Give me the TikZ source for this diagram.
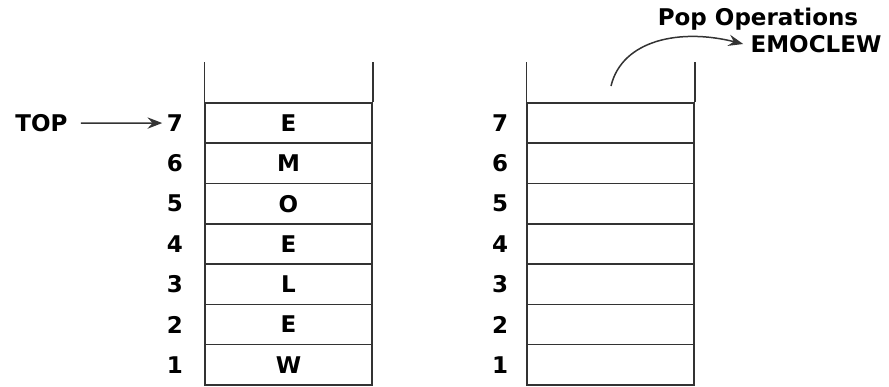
\documentclass[tikz,border=0pt]{standalone}
\usepackage{fontspec}
\setmainfont{DejaVu Sans}
\usepackage{tikz}
\usetikzlibrary{arrows.meta,positioning}

\begin{document}
\begin{tikzpicture}[
    x=0.5pt, y=-0.5pt,
    font=\fontsize{11.5}{13}\selectfont\bfseries,
    line width=0.75pt,
    cell/.style={
        draw=black!80,
        minimum width=83.5pt,
        minimum height=20.15pt,
        inner sep=0pt
    },
    num/.style={inner sep=2pt},
    wall/.style={draw=black!80},
    arrow/.style={-{Stealth[length=2.6mm,width=2mm,inset=0.9mm]}, black!80}
]
\useasboundingbox (0,0) rectangle (889,386);

% left stack, filled
\foreach \i/\ch in {1/W,2/E,3/L,4/E,5/O,6/M,7/E} {
    \node[cell] (l\i) at (288.5,{385-(\i-0.5)*40.3}) {\ch};
    \node[num] (ln\i) at (175,{385-(\i-0.5)*40.3}) {\i};
}
% right stack, emptied
\foreach \i in {1,...,7} {
    \node[cell] (r\i) at (610.5,{385-(\i-0.5)*40.3}) {};
    \node[num] (rn\i) at (500,{385-(\i-0.5)*40.3}) {\i};
}

\draw[wall] (l7.north west) -- ++(0,-40);
\draw[wall] (l7.north east) -- ++(0,-40);
\draw[wall] (r7.north west) -- ++(0,-40);
\draw[wall] (r7.north east) -- ++(0,-40);

\node[anchor=west] (top) at (8,123) {TOP};
\draw[arrow, shorten <=3pt] (top.east) -- (ln7.west);

\node (pop) at (758,19) {Pop Operations};
\node (word) at (816,44) {EMOCLEW};
\coordinate (popstart) at (611,86);
\draw[arrow] (popstart) .. controls (622,40) and (680,28) .. (word.west);
\end{tikzpicture}
\end{document}
